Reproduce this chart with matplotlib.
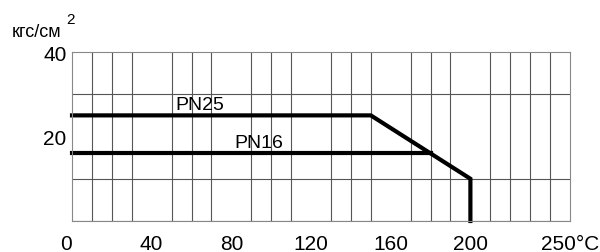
import matplotlib.pyplot as plt
import matplotlib.transforms as mtransforms

plt.rcParams['font.family'] = ['Liberation Sans', 'DejaVu Sans']

# pressure vs temperature
pn25_t = [0, 150, 200, 200]
pn25_p = [25, 25, 10, 0]
pn16_t = [0, 180]
pn16_p = [16, 16]

xticks = [0, 40, 80, 120, 160, 200, 250]
xlabels = ["0", "40", "80", "120", "160", "200", "250°C"]
yticks = [20, 40]

fig = plt.figure(figsize=(6, 2.53), dpi=100)
ax = fig.add_axes([0.12, 0.1225, 0.83, 0.668])

ax.set_xlim(0, 250)
ax.set_ylim(0, 40)
ax.set_xticks(range(0, 251, 10), minor=True)
ax.set_yticks(range(0, 41, 10), minor=True)
ax.grid(True, which='minor', color='#555555', linewidth=0.8)
ax.set_axisbelow(True)

ax.set_xticks(xticks)
ax.set_xticklabels(xlabels)
ax.set_yticks(yticks)
ax.tick_params(which='both', length=0, labelsize=15)
ax.tick_params(axis='x', pad=9)
ax.tick_params(axis='y', pad=4)
for s in ax.spines.values():
    s.set_color('#888888')
    s.set_linewidth(0.8)

# nudge the "0" label a little to the left, as in the original
lbl0 = ax.get_xticklabels()[0]
lbl0.set_transform(lbl0.get_transform() + mtransforms.ScaledTranslation(-0.06, 0, fig.dpi_scale_trans))

ax.plot(pn25_t, pn25_p, color='black', linewidth=3, solid_joinstyle='miter', clip_on=False)
ax.plot(pn16_t, pn16_p, color='black', linewidth=3, clip_on=False)

ax.text(64, 25.6, "PN25", fontsize=14, ha='center', va='bottom')
ax.text(94, 16.6, "PN16", fontsize=14, ha='center', va='bottom')

fig.text(0.02, 0.87, "кгс/см", fontsize=13, va='center')
fig.text(0.11, 0.92, "2", fontsize=11, va='center')

fig.savefig("out.png", dpi=100)
